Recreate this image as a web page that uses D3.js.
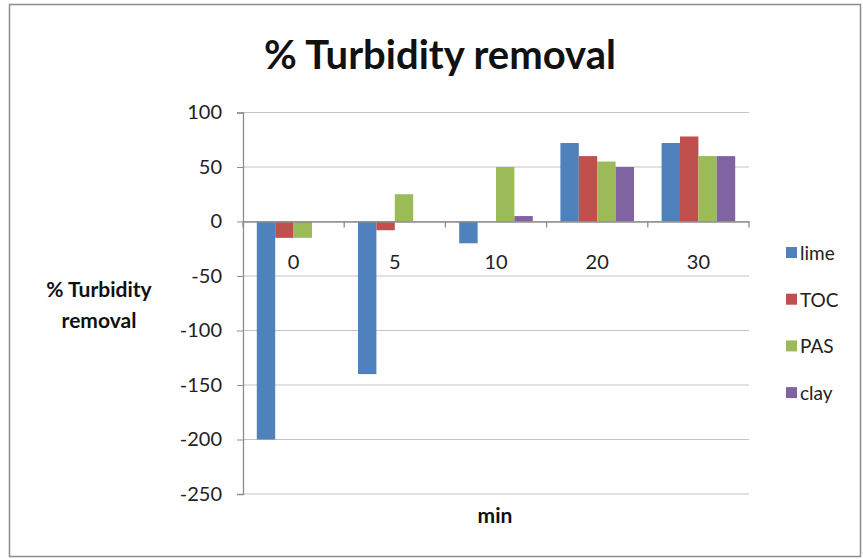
<!DOCTYPE html>
<html>
<head>
<meta charset="utf-8">
<script src="https://cdn.jsdelivr.net/npm/d3@7"></script>
<style>
  body { margin: 0; background: #fff; }
  svg { font-family: Lato, "Open Sans", sans-serif; }
</style>
</head>
<body>
<svg id="chart" width="863" height="559"></svg>
<script>
// data
const categories = ["0", "5", "10", "20", "30"];
const seriesNames = ["lime", "TOC", "PAS", "clay"];
const lime = [-200, -140, -20, 72, 72];
const toc = [-15, -8, 0, 60, 78];
const pas = [-15, 25, 50, 55, 60];
const clay = [0, 0, 5, 50, 60];
const yTicks = [100, 50, 0, -50, -100, -150, -200, -250];
const colors = ["#4F81BD", "#C0504D", "#9BBB59", "#8064A2"];

const seriesValues = [lime, toc, pas, clay];

const svg = d3.select("#chart");

// chart frame
svg.append("rect")
    .attr("x", 9.5).attr("y", 4.5)
    .attr("width", 851).attr("height", 552)
    .attr("fill", "#fff")
    .attr("stroke", "#8c8c8c")
    .attr("stroke-width", 1.5);

const plot = { left: 243, right: 749, top: 112.5, bottom: 494 };

const x = d3.scaleBand()
    .domain(categories)
    .range([plot.left, plot.right]);

// Excel style: gap width 150% between groups
const barW = x.bandwidth() / 5.5;
const xs = d3.scaleBand()
    .domain(seriesNames)
    .range([barW * 0.75, barW * 0.75 + barW * 4]);

const y = d3.scaleLinear()
    .domain([-250, 100])
    .range([plot.bottom, plot.top]);

// gridlines
svg.append("g")
    .selectAll("line")
    .data(yTicks)
    .enter().append("line")
    .attr("x1", plot.left)
    .attr("x2", plot.right)
    .attr("y1", d => y(d))
    .attr("y2", d => y(d))
    .attr("stroke", "#c3c3c3")
    .attr("stroke-width", 1.2);

// y axis (plain hyphen for negatives, like the original)
const yAxis = svg.append("g")
    .attr("transform", `translate(${plot.left},0)`)
    .call(d3.axisLeft(y).tickValues(yTicks).tickFormat(d => String(d)).tickSize(6).tickPadding(15));
yAxis.select(".domain").attr("stroke", "#8c8c8c").attr("stroke-width", 1.3);
yAxis.selectAll(".tick line").attr("stroke", "#8c8c8c");
yAxis.selectAll("text")
    .attr("font-size", 20)
    .attr("fill", "#222")
    .style("font-family", "Lato, sans-serif");

// bars
const groups = svg.append("g")
    .selectAll("g")
    .data(seriesNames)
    .enter().append("g")
    .attr("fill", (d, i) => colors[i]);

groups.selectAll("rect")
    .data((name, si) => categories.map((c, ci) => ({ cat: c, name: name, value: seriesValues[si][ci] })))
    .enter().append("rect")
    .attr("x", d => x(d.cat) + xs(d.name))
    .attr("width", xs.bandwidth())
    .attr("y", d => y(Math.max(0, d.value)))
    .attr("height", d => Math.abs(y(d.value) - y(0)));

// category axis at zero
const xAxis = svg.append("g")
    .attr("transform", `translate(0,${y(0)})`)
    .call(d3.axisBottom(x).tickSize(0).tickPadding(33));
xAxis.select(".domain").attr("stroke", "#8c8c8c").attr("stroke-width", 1.3);
xAxis.selectAll("text")
    .attr("font-size", 20)
    .attr("fill", "#222")
    .style("font-family", "Lato, sans-serif");

// category boundary ticks
svg.append("g")
    .selectAll("line")
    .data(categories.concat(["end"]))
    .enter().append("line")
    .attr("x1", (d, i) => i < categories.length ? x(d) : plot.right)
    .attr("x2", (d, i) => i < categories.length ? x(d) : plot.right)
    .attr("y1", y(0))
    .attr("y2", y(0) + 6)
    .attr("stroke", "#8c8c8c")
    .attr("stroke-width", 1.3);

// title
svg.append("text")
    .attr("x", 440).attr("y", 69)
    .attr("text-anchor", "middle")
    .attr("font-size", 40)
    .attr("font-weight", "bold")
    .attr("fill", "#111")
    .text("% Turbidity removal");

// y axis title
const yTitle = svg.append("text")
    .attr("text-anchor", "middle")
    .attr("font-size", 21)
    .attr("font-weight", "bold")
    .attr("fill", "#111");
yTitle.append("tspan").attr("x", 99).attr("y", 297).text("% Turbidity");
yTitle.append("tspan").attr("x", 99).attr("y", 328).text("removal");

// x axis title
svg.append("text")
    .attr("x", 495).attr("y", 523)
    .attr("text-anchor", "middle")
    .attr("font-size", 21)
    .attr("font-weight", "bold")
    .attr("fill", "#111")
    .text("min");

// legend
const legend = svg.append("g")
    .selectAll("g")
    .data(seriesNames)
    .enter().append("g")
    .attr("transform", (d, i) => `translate(786,${253 + i * 46.7})`);

legend.append("rect")
    .attr("x", 0).attr("y", -6)
    .attr("width", 11).attr("height", 11)
    .attr("fill", (d, i) => colors[i]);

legend.append("text")
    .attr("x", 14).attr("y", 7)
    .attr("font-size", 19)
    .attr("fill", "#222")
    .text(d => d);
</script>
</body>
</html>
